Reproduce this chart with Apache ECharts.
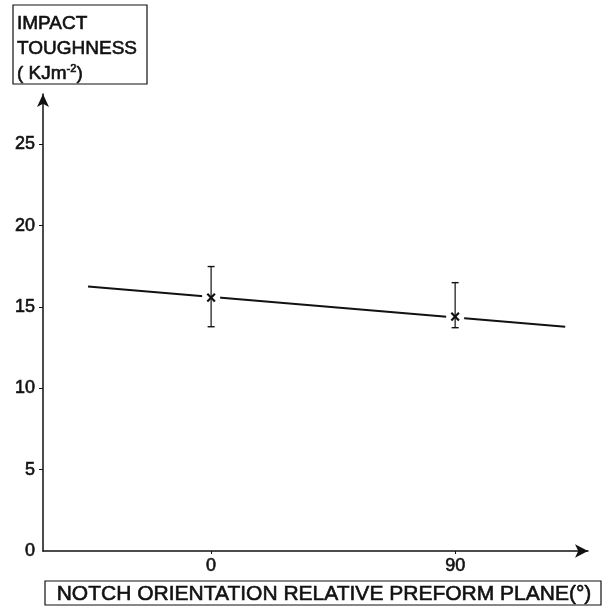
<!DOCTYPE html>
<html>
<head>
<meta charset="utf-8">
<script src="https://cdn.jsdelivr.net/npm/echarts@6/dist/echarts.min.js"></script>
<style>html,body{margin:0;padding:0;background:#fff}#c{width:608px;height:608px}</style>
</head>
<body>
<div id="c"></div>
<script>
// Data
const xTicks = [0, 90];
const yTicks = [0, 5, 10, 15, 20, 25];
const orientations = [0, 90];
const toughness = [15.58, 14.41];
const errLow = [13.79, 13.73];
const errHigh = [17.49, 16.5];
const fitX = [-45.4, 130.6];
const fitY = [16.26, 13.79];
const yTitle = ['IMPACT', 'TOUGHNESS', '( KJm{sup|-2})'];
const xTitle = 'NOTCH ORIENTATION RELATIVE PREFORM PLANE(°)';

const ink = '#111';
const font = 'Liberation Sans';
const thick = {textBorderColor: ink, textBorderWidth: 0.6};
const gThick = {stroke: ink, lineWidth: 0.6};
const chart = echarts.init(document.getElementById('c'), null, {renderer: 'canvas'});

const errData = orientations.map((o, i) => [o, toughness[i], errLow[i], errHigh[i]]);
const fitData = fitX.map((x, i) => [x, fitY[i]]);

chart.setOption({
  animation: false,
  backgroundColor: '#fff',
  grid: {left: 43, right: 20, top: 94, bottom: 57, containLabel: false},
  xAxis: {
    type: 'value', min: -62, max: 139,
    splitLine: {show: false},
    axisLine: {show: true, onZero: false, symbol: ['none', 'arrow'], symbolSize: [10, 13], lineStyle: {color: ink, width: 1.5}},
    axisTick: {show: true, length: 3, customValues: xTicks, lineStyle: {color: ink}},
    axisLabel: Object.assign({customValues: xTicks, color: ink, fontFamily: font, fontSize: 18, margin: 6}, thick)
  },
  yAxis: {
    type: 'value', min: 0, max: 28.1,
    splitLine: {show: false},
    axisLine: {show: true, onZero: false, symbol: ['none', 'arrow'], symbolSize: [9, 13], lineStyle: {color: ink, width: 1.5}},
    axisTick: {show: true, length: 4, customValues: yTicks.filter(v => v > 0), lineStyle: {color: ink}},
    axisLabel: Object.assign({customValues: yTicks, color: ink, fontFamily: font, fontSize: 18, margin: 8}, thick)
  },
  graphic: [
    {type: 'rect', shape: {x: 13, y: 5, width: 134, height: 79}, style: {fill: 'none', stroke: ink, lineWidth: 1.2}},
    {type: 'text', x: 17, y: 11, style: Object.assign({
      text: yTitle.join('\n'), fill: ink, fontFamily: font, fontSize: 19,
      lineHeight: 25, verticalAlign: 'top',
      rich: {sup: Object.assign({fontSize: 11, fontFamily: font, fill: ink, padding: [0, 0, 9, 0], lineHeight: 25}, gThick)}
    }, gThick)},
    {type: 'rect', shape: {x: 45, y: 581, width: 556, height: 24}, style: {fill: 'none', stroke: ink, lineWidth: 1.2}},
    {type: 'text', x: 324, y: 594, style: Object.assign({text: xTitle, fill: ink, fontFamily: font, fontSize: 21, align: 'center', verticalAlign: 'middle'}, gThick)}
  ],
  series: [
    {
      type: 'line', data: fitData, symbol: 'none', z: 2,
      lineStyle: {color: ink, width: 2}
    },
    {
      type: 'custom', data: errData, z: 3,
      renderItem: function (params, api) {
        const x = api.value(0), y = api.value(1), lo = api.value(2), hi = api.value(3);
        const p = api.coord([x, y]), pl = api.coord([x, lo]), ph = api.coord([x, hi]);
        const c = 3.5, s = 3.8;
        return {type: 'group', children: [
          {type: 'rect', shape: {x: p[0] - 9, y: p[1] - 6, width: 18, height: 12}, style: {fill: '#fff'}},
          {type: 'line', shape: {x1: pl[0], y1: pl[1], x2: ph[0], y2: ph[1]}, style: {stroke: ink, lineWidth: 1.2}},
          {type: 'line', shape: {x1: pl[0] - c, y1: pl[1], x2: pl[0] + c, y2: pl[1]}, style: {stroke: ink, lineWidth: 1.4}},
          {type: 'line', shape: {x1: ph[0] - c, y1: ph[1], x2: ph[0] + c, y2: ph[1]}, style: {stroke: ink, lineWidth: 1.4}},
          {type: 'line', shape: {x1: p[0] - s, y1: p[1] - s, x2: p[0] + s, y2: p[1] + s}, style: {stroke: ink, lineWidth: 2.2}},
          {type: 'line', shape: {x1: p[0] - s, y1: p[1] + s, x2: p[0] + s, y2: p[1] - s}, style: {stroke: ink, lineWidth: 2.2}}
        ]};
      }
    }
  ]
});
</script>
</body>
</html>
